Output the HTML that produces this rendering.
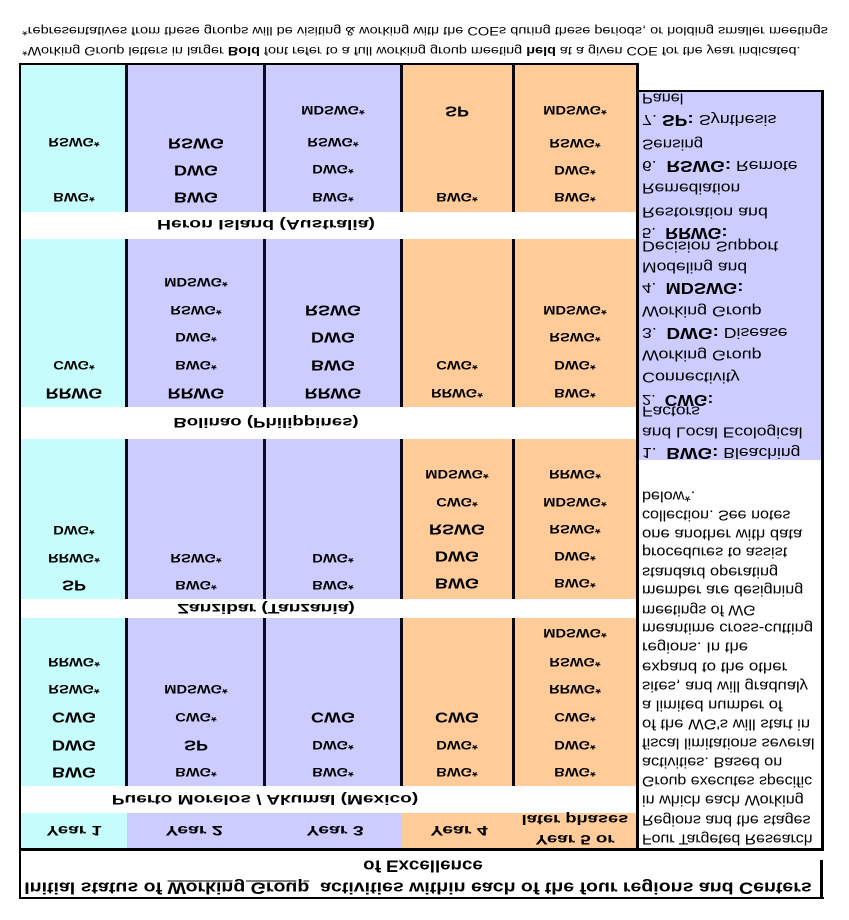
<!DOCTYPE html>
<html><head><meta charset="utf-8">
<style>
html,body{margin:0;padding:0;background:#fff;}
#pg{position:relative;width:849px;height:920px;overflow:hidden;background:#fff;font-family:"Liberation Sans",Arial,sans-serif;color:#000;}
.r{position:absolute;}
.t{position:absolute;white-space:nowrap;line-height:1;transform:translate(-50%,-50%) scale(var(--sx,1),-1);transform-origin:50% 50%;}
.l{position:absolute;white-space:nowrap;line-height:1;transform-origin:0 50%;transform:translateY(-50%) scale(var(--sx,1),-1);}
.s{font-size:12px;font-weight:bold;--sx:1.22;}
.b{font-size:15px;font-weight:bold;--sx:1.2;}
.lab{font-size:14px;font-weight:bold;--sx:1.37;}
.h{font-size:14px;font-weight:bold;--sx:1.32;}
.n{font-size:15px;--sx:1.0;}
.n b{font-size:16px;}
.top{font-size:12px;--sx:1.1;}
.ti{font-size:17px;font-weight:bold;--sx:1.15;}
</style></head>
<body><div id="pg">

<!-- column backgrounds -->
<div class="r" style="left:20px;top:64px;width:107px;height:784px;background:#C6FCFC;"></div>
<div class="r" style="left:127px;top:64px;width:274px;height:784px;background:#CCCCFF;"></div>
<div class="r" style="left:401px;top:64px;width:237px;height:784px;background:#FFCC99;"></div>
<!-- label rows -->
<div class="r" style="left:20px;top:212px;width:618px;height:27px;background:#fff;"></div>
<div class="r" style="left:20px;top:407px;width:618px;height:32px;background:#fff;"></div>
<div class="r" style="left:20px;top:599px;width:618px;height:19px;background:#fff;"></div>
<div class="r" style="left:20px;top:786px;width:618px;height:27px;background:#fff;"></div>
<!-- notes column -->
<div class="r" style="left:638px;top:91px;width:185px;height:369px;background:#CCCCFF;"></div>
<div class="r" style="left:638px;top:460px;width:185px;height:388px;background:#fff;"></div>

<!-- lines -->
<div class="r" style="left:19px;top:63px;width:620px;height:2px;background:#000;"></div>
<div class="r" style="left:637px;top:90px;width:187px;height:2px;background:#000;"></div>
<div class="r" style="left:19px;top:63px;width:2px;height:836px;background:#000;"></div>
<div class="r" style="left:636px;top:63px;width:3px;height:787px;background:#000;"></div>
<div class="r" style="left:821px;top:90px;width:3px;height:760px;background:#000;"></div>
<div class="r" style="left:19px;top:848px;width:805px;height:3px;background:#000;"></div>
<div class="r" style="left:19px;top:897px;width:805px;height:2px;background:#000;"></div>
<div class="r" style="left:820px;top:860px;width:3px;height:39px;background:#000;"></div>

<!-- inner vertical lines per section -->
<div class="r" style="left:125px;top:64px;width:3px;height:148px;background:#0a0a1a;"></div>
<div class="r" style="left:263px;top:64px;width:3px;height:148px;background:#0a0a1a;"></div>
<div class="r" style="left:400px;top:64px;width:3px;height:148px;background:#0a0a1a;"></div>
<div class="r" style="left:512px;top:64px;width:3px;height:148px;background:#0a0a1a;"></div>

<div class="r" style="left:125px;top:239px;width:3px;height:168px;background:#0a0a1a;"></div>
<div class="r" style="left:263px;top:239px;width:3px;height:168px;background:#0a0a1a;"></div>
<div class="r" style="left:400px;top:239px;width:3px;height:168px;background:#0a0a1a;"></div>
<div class="r" style="left:512px;top:239px;width:3px;height:168px;background:#0a0a1a;"></div>

<div class="r" style="left:125px;top:439px;width:3px;height:160px;background:#0a0a1a;"></div>
<div class="r" style="left:263px;top:439px;width:3px;height:160px;background:#0a0a1a;"></div>
<div class="r" style="left:400px;top:439px;width:3px;height:160px;background:#0a0a1a;"></div>
<div class="r" style="left:512px;top:439px;width:3px;height:160px;background:#0a0a1a;"></div>

<div class="r" style="left:125px;top:618px;width:3px;height:168px;background:#0a0a1a;"></div>
<div class="r" style="left:263px;top:618px;width:3px;height:168px;background:#0a0a1a;"></div>
<div class="r" style="left:400px;top:618px;width:3px;height:168px;background:#0a0a1a;"></div>
<div class="r" style="left:512px;top:618px;width:3px;height:168px;background:#0a0a1a;"></div>

<!-- top notes -->
<div class="l top" style="left:22px;top:31px;--w:806;">*representatives from these groups will be visiting &amp; working with the COEs during these periods, or holding smaller meetings</div>
<div class="l top" style="left:22px;top:51px;--w:778;">*Working Group letters in larger <b>Bold</b> font refer to a full working group meeting <b>held</b> at a given COE for the year indicated.</div>

<!-- Heron Island -->
<div class="t s" style="left:73.5px;top:142px;">RSWG*</div>
<div class="t s" style="left:73.5px;top:197px;">BWG*</div>
<div class="t b" style="left:196px;top:143px;">RSWG</div>
<div class="t b" style="left:196px;top:170px;">DWG</div>
<div class="t b" style="left:196px;top:197px;">BWG</div>
<div class="t s" style="left:333px;top:110px;">MDSWG*</div>
<div class="t s" style="left:333px;top:142px;">RSWG*</div>
<div class="t s" style="left:333px;top:169px;">DWG*</div>
<div class="t s" style="left:333px;top:197px;">BWG*</div>
<div class="t b" style="left:457px;top:111px;">SP</div>
<div class="t s" style="left:457px;top:197px;">BWG*</div>
<div class="t s" style="left:575px;top:110px;">MDSWG*</div>
<div class="t s" style="left:575px;top:143px;">RSWG*</div>
<div class="t s" style="left:575px;top:170px;">DWG*</div>
<div class="t s" style="left:575px;top:197px;">BWG*</div>
<div class="t lab" style="left:266px;top:225px;--w:218;">Heron Island (Australia)</div>

<!-- Bolinao -->
<div class="t s" style="left:73.5px;top:365px;">CWG*</div>
<div class="t b" style="left:73.5px;top:393px;">RRWG</div>
<div class="t s" style="left:196px;top:282px;">MDSWG*</div>
<div class="t s" style="left:196px;top:310px;">RSWG*</div>
<div class="t s" style="left:196px;top:337px;">DWG*</div>
<div class="t s" style="left:196px;top:365px;">BWG*</div>
<div class="t b" style="left:196px;top:393px;">RRWG</div>
<div class="t b" style="left:333px;top:310px;">RSWG</div>
<div class="t b" style="left:333px;top:337px;">DWG</div>
<div class="t b" style="left:333px;top:365px;">BWG</div>
<div class="t b" style="left:333px;top:393px;">RRWG</div>
<div class="t s" style="left:457px;top:365px;">CWG*</div>
<div class="t s" style="left:457px;top:393px;">RRWG*</div>
<div class="t s" style="left:575px;top:310px;">MDSWG*</div>
<div class="t s" style="left:575px;top:337px;">RSWG*</div>
<div class="t s" style="left:575px;top:365px;">DWG*</div>
<div class="t s" style="left:575px;top:393px;">BWG*</div>
<div class="t lab" style="left:265.5px;top:423px;--w:185;">Bolinao (Philippines)</div>

<!-- Zanzibar -->
<div class="t s" style="left:73.5px;top:530px;">DWG*</div>
<div class="t s" style="left:73.5px;top:558px;">RRWG*</div>
<div class="t b" style="left:73.5px;top:585px;">SP</div>
<div class="t s" style="left:196px;top:558px;">RSWG*</div>
<div class="t s" style="left:196px;top:585px;">BWG*</div>
<div class="t s" style="left:333px;top:558px;">DWG*</div>
<div class="t s" style="left:333px;top:585px;">BWG*</div>
<div class="t s" style="left:457px;top:474px;">MDSWG*</div>
<div class="t s" style="left:457px;top:502px;">CWG*</div>
<div class="t b" style="left:457px;top:529px;">RSWG</div>
<div class="t b" style="left:457px;top:556px;">DWG</div>
<div class="t b" style="left:457px;top:583px;">BWG</div>
<div class="t s" style="left:575px;top:474px;">RRWG*</div>
<div class="t s" style="left:575px;top:502px;">MDSWG*</div>
<div class="t s" style="left:575px;top:529px;">RSWG*</div>
<div class="t s" style="left:575px;top:556px;">DWG*</div>
<div class="t s" style="left:575px;top:583px;">BWG*</div>
<div class="t lab" style="left:266px;top:609px;--w:178;">Zanzibar (Tanzania)</div>

<!-- Puerto Morelos -->
<div class="t s" style="left:73.5px;top:662px;">RRWG*</div>
<div class="t s" style="left:73.5px;top:689px;">RSWG*</div>
<div class="t b" style="left:73.5px;top:717px;">CWG</div>
<div class="t b" style="left:73.5px;top:745px;">DWG</div>
<div class="t b" style="left:73.5px;top:772px;">BWG</div>
<div class="t s" style="left:196px;top:689px;">MDSWG*</div>
<div class="t s" style="left:196px;top:717px;">CWG*</div>
<div class="t b" style="left:196px;top:745px;">SP</div>
<div class="t s" style="left:196px;top:772px;">BWG*</div>
<div class="t b" style="left:333px;top:717px;">CWG</div>
<div class="t s" style="left:333px;top:745px;">DWG*</div>
<div class="t s" style="left:333px;top:772px;">BWG*</div>
<div class="t b" style="left:457px;top:717px;">CWG</div>
<div class="t s" style="left:457px;top:745px;">DWG*</div>
<div class="t s" style="left:457px;top:772px;">BWG*</div>
<div class="t s" style="left:575px;top:633px;">MDSWG*</div>
<div class="t s" style="left:575px;top:662px;">RSWG*</div>
<div class="t s" style="left:575px;top:689px;">RRWG*</div>
<div class="t s" style="left:575px;top:717px;">CWG*</div>
<div class="t s" style="left:575px;top:745px;">DWG*</div>
<div class="t s" style="left:575px;top:772px;">BWG*</div>
<div class="t lab" style="left:265px;top:800px;--w:306;">Puerto Morelos / Akumal (Mexico)</div>

<!-- header row -->
<div class="t h" style="left:73.5px;top:831px;--w:55;">Year 1</div>
<div class="t h" style="left:194px;top:831px;--w:57;">Year 2</div>
<div class="t h" style="left:335px;top:831px;--w:57;">Year 3</div>
<div class="t h" style="left:459px;top:831px;--w:57;">Year 4</div>
<div class="t h" style="left:575px;top:820px;--w:107;">later phases</div>
<div class="t h" style="left:575px;top:840px;--w:79;">Year 5 or</div>

<!-- notes column -->
<div class="l n" style="left:642px;top:98px;--w:41;">Panel</div>
<div class="l n" style="left:642px;top:119px;--w:135;">7. <b>SP:</b> Synthesis</div>
<div class="l n" style="left:642px;top:144px;--w:61;">Sensing</div>
<div class="l n" style="left:642px;top:165px;--w:156;">6. &nbsp;<b>RSWG:</b> Remote</div>
<div class="l n" style="left:642px;top:188px;--w:98;">Remediation</div>
<div class="l n" style="left:642px;top:212px;--w:126;">Restoration and</div>
<div class="l n" style="left:642px;top:232px;--w:86;">5. &nbsp;<b>RRWG:</b></div>
<div class="l n" style="left:642px;top:246px;--w:136;">Decision Support</div>
<div class="l n" style="left:642px;top:267px;--w:105;">Modeling and</div>
<div class="l n" style="left:642px;top:287px;--w:101;">4. &nbsp;<b>MDSWG:</b></div>
<div class="l n" style="left:642px;top:311px;--w:120;">Working Group</div>
<div class="l n" style="left:642px;top:332px;--w:146;">3. &nbsp;<b>DWG:</b> Disease</div>
<div class="l n" style="left:642px;top:355px;--w:120;">Working Group</div>
<div class="l n" style="left:642px;top:377px;--w:98;">Connectivity</div>
<div class="l n" style="left:642px;top:399px;--w:71;">2. &nbsp;<b>CWG:</b></div>
<div class="l n" style="left:642px;top:411px;--w:58;">Factors</div>
<div class="l n" style="left:642px;top:432px;--w:161;">and Local Ecological</div>
<div class="l n" style="left:642px;top:452px;--w:158;">1. &nbsp;<b>BWG:</b> Bleaching</div>

<div class="l n" style="left:642px;top:496px;--w:53;">below*.</div>
<div class="l n" style="left:642px;top:515px;--w:148;">collection. See notes</div>
<div class="l n" style="left:642px;top:534px;--w:160;">one another with data</div>
<div class="l n" style="left:642px;top:552px;--w:145;">procedures to assist</div>
<div class="l n" style="left:642px;top:572px;--w:136;">standard operating</div>
<div class="l n" style="left:642px;top:590px;--w:161;">member are designing</div>
<div class="l n" style="left:642px;top:610px;--w:114;">meetings of WG</div>
<div class="l n" style="left:642px;top:628px;--w:171;">meantime cross-cutting</div>
<div class="l n" style="left:642px;top:647px;--w:106;">regions. In the</div>
<div class="l n" style="left:642px;top:667px;--w:145;">expand to the other</div>
<div class="l n" style="left:642px;top:686px;--w:166;">sites, and will gradualy</div>
<div class="l n" style="left:642px;top:705px;--w:141;">a limited number of</div>
<div class="l n" style="left:642px;top:724px;--w:168;">of the WG's will start in</div>
<div class="l n" style="left:642px;top:743px;--w:173;">fiscal limitations several</div>
<div class="l n" style="left:642px;top:762px;--w:140;">activities. Based on</div>
<div class="l n" style="left:642px;top:781px;--w:170;">Group executes specific</div>
<div class="l n" style="left:642px;top:800px;--w:162;">in which each Working</div>
<div class="l n" style="left:642px;top:820px;--w:169;">Regions and the stages</div>
<div class="l n" style="left:642px;top:839px;--w:170;">Four Targeted Research</div>

<!-- title -->
<div class="t ti" style="left:423px;top:866px;--w:120;">of Excellence</div>
<div class="t ti" style="left:418px;top:888px;--w:787;">Initial status of <u>Working Group</u>&nbsp; activities within each of the four regions and Centers</div>

</div>
<script>
(function(){
  var els=document.querySelectorAll('.t,.l');
  for(var i=0;i<els.length;i++){
    var el=els[i];
    var w=parseFloat(getComputedStyle(el).getPropertyValue('--w'));
    if(w&&el.offsetWidth){el.style.setProperty('--sx',(w/el.offsetWidth).toFixed(4));}
  }
})();
</script>
</body></html>
